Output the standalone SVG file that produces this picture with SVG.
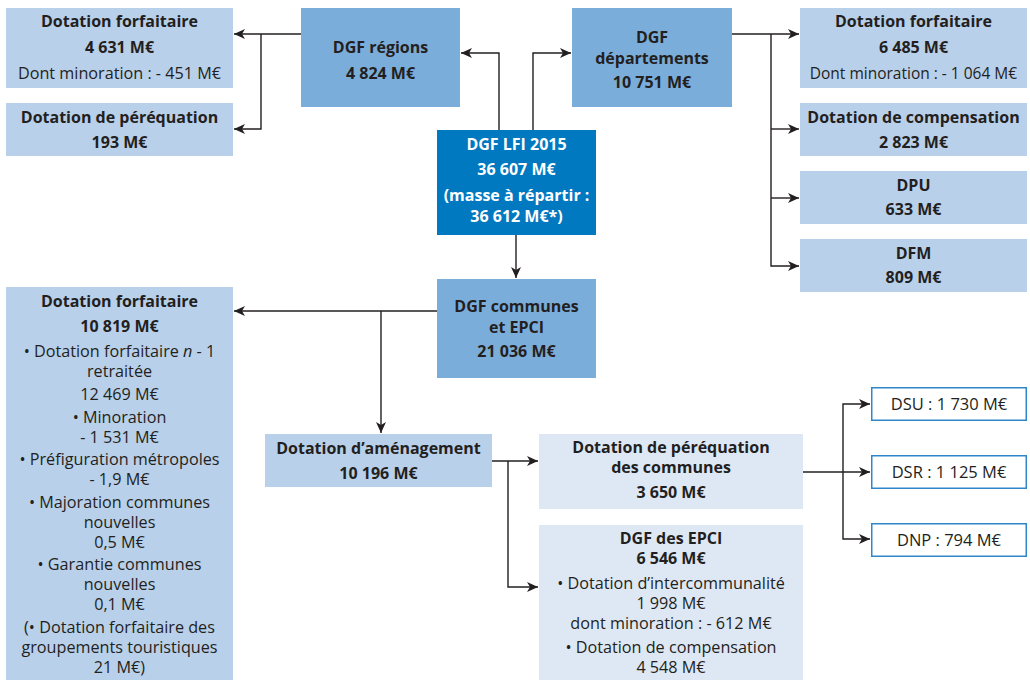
<svg xmlns="http://www.w3.org/2000/svg" width="1030" height="680" viewBox="0 0 1030 680">
<style>
text{font-family:"Open Sans","Noto Sans",sans-serif;font-size:16.2px;fill:#231f20;text-anchor:middle}
.b{font-weight:bold;font-size:16px}
.s{font-size:15.5px}
.t{font-size:16.5px}
.w{fill:#ffffff}
.l{fill:#b9d0ea}
.m{fill:#7badda}
.d{fill:#0079c1}
.p{fill:#dee8f5}
.o{fill:#ffffff;stroke:#2f86c8;stroke-width:1.5}
.c path{fill:none;stroke:#231f20;stroke-width:1.4;marker-end:url(#ah)}
</style>
<defs>
<marker id="ah" markerUnits="userSpaceOnUse" markerWidth="12" markerHeight="10" refX="11" refY="5" orient="auto">
<path d="M0,0 L11,5 L0,10 L3,5 z" fill="#231f20"/>
</marker>
</defs>
<g class="c" id="connectors">
<path d="M499,130 V53 H461"/>
<path d="M533,130 V53 H571"/>
<path d="M516,235 V278"/>
<path d="M301,34 H234"/>
<path d="M261,34 V129 H234"/>
<path d="M732,34 H799"/>
<path d="M771,34 V266 H799"/>
<path d="M771,129 H799"/>
<path d="M771,198 H799"/>
<path d="M437,311 H234"/>
<path d="M381,311 V433"/>
<path d="M492,461 H538"/>
<path d="M508,461 V587 H538"/>
<path d="M803,472 H870"/>
<path d="M843,472 V404 H870"/>
<path d="M843,472 V539 H870"/>
</g>
<g id="reg-forfaitaire">
<rect class="l" x="6" y="8" width="227" height="80"/>
<text x="119.5" y="27" class="b">Dotation forfaitaire</text>
<text x="119.5" y="53" class="b">4 631 M€</text>
<text x="119.5" y="79">Dont minoration : - 451 M€</text>
</g>
<g id="reg-perequation">
<rect class="l" x="6" y="103" width="227" height="53"/>
<text x="119.5" y="123" class="b">Dotation de péréquation</text>
<text x="119.5" y="148" class="b">193 M€</text>
</g>
<g id="dgf-regions">
<rect class="m" x="301" y="8" width="159" height="99"/>
<text x="380.5" y="53" class="b">DGF régions</text>
<text x="380.5" y="79" class="b">4 824 M€</text>
</g>
<g id="dgf-lfi">
<rect class="d" x="437" y="130" width="159" height="105"/>
<text x="516.5" y="150" class="b w">DGF LFI 2015</text>
<text x="516.5" y="175" class="b w">36 607 M€</text>
<text x="516.5" y="201" class="b w">(masse à répartir :</text>
<text x="516.5" y="222" class="b w">36 612 M€*)</text>
</g>
<g id="dgf-departements">
<rect class="m" x="572" y="8" width="160" height="99"/>
<text x="652" y="43" class="b">DGF</text>
<text x="652" y="63.5" class="b">départements</text>
<text x="652" y="88" class="b">10 751 M€</text>
</g>
<g id="dep-forfaitaire">
<rect class="l" x="800" y="8" width="227" height="80"/>
<text x="913.5" y="27" class="b">Dotation forfaitaire</text>
<text x="913.5" y="53" class="b">6 485 M€</text>
<text x="913.5" y="79" class="s">Dont minoration : - 1 064 M€</text>
</g>
<g id="dep-compensation">
<rect class="l" x="800" y="103" width="227" height="53"/>
<text x="913.5" y="123" class="b">Dotation de compensation</text>
<text x="913.5" y="148" class="b">2 823 M€</text>
</g>
<g id="dep-dpu">
<rect class="l" x="800" y="171" width="227" height="53"/>
<text x="913.5" y="191" class="b">DPU</text>
<text x="913.5" y="215" class="b">633 M€</text>
</g>
<g id="dep-dfm">
<rect class="l" x="800" y="239" width="227" height="53"/>
<text x="913.5" y="259" class="b">DFM</text>
<text x="913.5" y="283" class="b">809 M€</text>
</g>
<g id="dgf-communes">
<rect class="m" x="437" y="279" width="159" height="99"/>
<text x="516.5" y="312" class="b">DGF communes</text>
<text x="516.5" y="332.5" class="b">et EPCI</text>
<text x="516.5" y="357" class="b">21 036 M€</text>
</g>
<g id="com-forfaitaire">
<rect class="l" x="6" y="287" width="227" height="393"/>
<text x="119.5" y="307" class="b">Dotation forfaitaire</text>
<text x="119.5" y="332" class="b">10 819 M€</text>
<text x="119.5" y="357">• Dotation forfaitaire <tspan font-style="italic">n</tspan> - 1</text>
<text x="119.5" y="377">retraitée</text>
<text x="119.5" y="400">12 469 M€</text>
<text x="119.5" y="423">• Minoration</text>
<text x="119.5" y="443">- 1 531 M€</text>
<text x="119.5" y="465">• Préfiguration métropoles</text>
<text x="119.5" y="485">- 1,9 M€</text>
<text x="119.5" y="508">• Majoration communes</text>
<text x="119.5" y="528">nouvelles</text>
<text x="119.5" y="548">0,5 M€</text>
<text x="119.5" y="570">• Garantie communes</text>
<text x="119.5" y="590">nouvelles</text>
<text x="119.5" y="610">0,1 M€</text>
<text x="119.5" y="633">(• Dotation forfaitaire des</text>
<text x="119.5" y="653">groupements touristiques</text>
<text x="119.5" y="673">21 M€)</text>
</g>
<g id="amenagement">
<rect class="l" x="265" y="434" width="227" height="53"/>
<text x="378.5" y="454" class="b">Dotation d’aménagement</text>
<text x="378.5" y="479" class="b">10 196 M€</text>
</g>
<g id="perequation-communes">
<rect class="p" x="539" y="434" width="264" height="75"/>
<text x="671" y="453" class="b">Dotation de péréquation</text>
<text x="671" y="473" class="b">des communes</text>
<text x="671" y="498" class="b">3 650 M€</text>
</g>
<g id="dgf-epci">
<rect class="p" x="539" y="525" width="264" height="155"/>
<text x="671" y="544" class="b">DGF des EPCI</text>
<text x="671" y="564" class="b">6 546 M€</text>
<text x="671" y="589">• Dotation d’intercommunalité</text>
<text x="671" y="609">1 998 M€</text>
<text x="671" y="629">dont minoration : - 612 M€</text>
<text x="671" y="653">• Dotation de compensation</text>
<text x="671" y="673">4 548 M€</text>
</g>
<g id="dsu">
<rect class="o" x="871.75" y="387.75" width="154.5" height="32.5"/>
<text x="949" y="409.5" class="t">DSU : 1 730 M€</text>
</g>
<g id="dsr">
<rect class="o" x="871.75" y="455.75" width="154.5" height="32.5"/>
<text x="949" y="477.5" class="t">DSR : 1 125 M€</text>
</g>
<g id="dnp">
<rect class="o" x="871.75" y="523.75" width="154.5" height="32.5"/>
<text x="949" y="545.5" class="t">DNP : 794 M€</text>
</g>
</svg>
